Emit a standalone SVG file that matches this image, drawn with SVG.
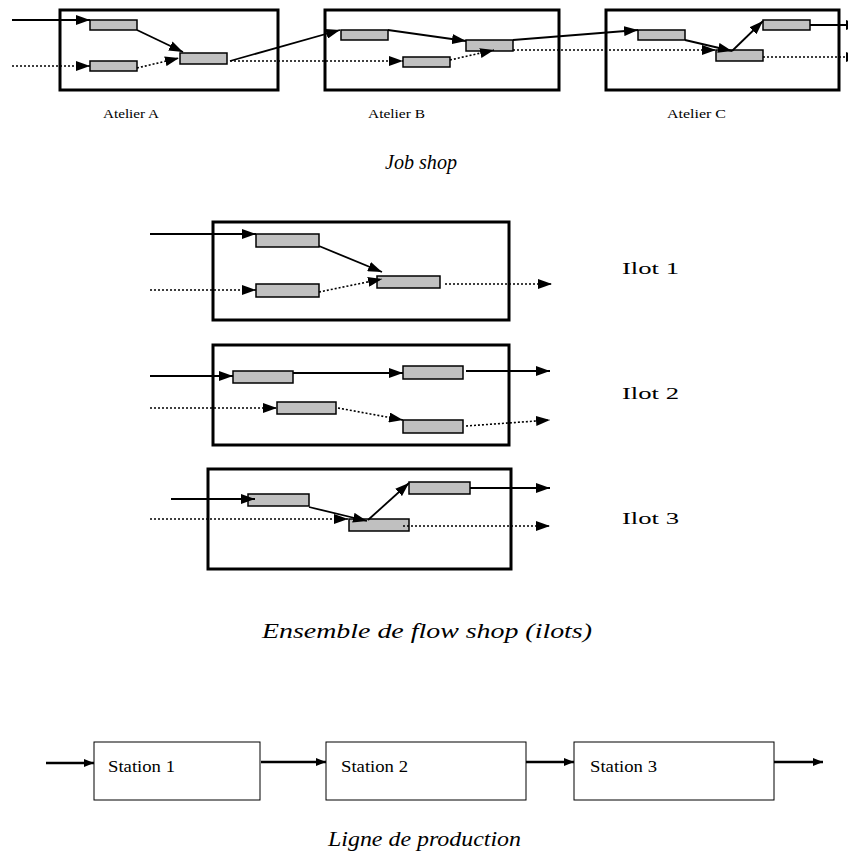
<svg xmlns="http://www.w3.org/2000/svg" width="848" height="856" viewBox="0 0 848 856">
<defs>
<marker id="ah" markerUnits="userSpaceOnUse" markerWidth="14" markerHeight="10" refX="14" refY="5" orient="auto"><path d="M0,0 L14,5 L0,10 z" fill="#000"/></marker>
<marker id="ahs" markerUnits="userSpaceOnUse" markerWidth="10" markerHeight="8" refX="10" refY="4" orient="auto"><path d="M0,0 L10,4 L0,8 z" fill="#000"/></marker>
</defs>
<style>
.box{fill:none;stroke:#000;stroke-width:3}
.op{fill:#c0c0c0;stroke:#000;stroke-width:1.5}
.st{fill:#fff;stroke:#000;stroke-width:1}
.s{fill:none;stroke:#000;stroke-width:1.8;marker-end:url(#ah)}
.d{fill:none;stroke:#000;stroke-width:1.6;stroke-dasharray:2 2;marker-end:url(#ah)}
.sl{fill:none;stroke:#000;stroke-width:2.5;marker-end:url(#ahs)}
.lbl{font-family:"Liberation Serif","Times New Roman",serif;fill:#000}
.ti{font-family:"Liberation Serif","Times New Roman",serif;font-style:italic;fill:#000;font-size:21px}
</style>
<rect width="848" height="856" fill="#fff"/>

<!-- Job shop -->
<g id="atelierA"><rect class="box" x="60" y="10" width="218" height="80"/><text class="lbl" x="103" y="118" font-size="13.5" textLength="56" lengthAdjust="spacingAndGlyphs">Atelier A</text></g>
<g id="atelierB"><rect class="box" x="325" y="10" width="234" height="80"/><text class="lbl" x="368" y="118" font-size="13.5" textLength="57" lengthAdjust="spacingAndGlyphs">Atelier B</text></g>
<g id="atelierC"><rect class="box" x="606" y="10" width="233" height="80"/><text class="lbl" x="667" y="118" font-size="13.5" textLength="59" lengthAdjust="spacingAndGlyphs">Atelier C</text></g>
<g id="a1"><rect class="op" x="90" y="20" width="47" height="10"/></g>
<g id="a2"><rect class="op" x="90" y="61" width="47" height="10"/></g>
<g id="a3"><rect class="op" x="180" y="53" width="47" height="11"/></g>
<g id="b1"><rect class="op" x="341" y="30" width="47" height="10"/></g>
<g id="b2"><rect class="op" x="403" y="57" width="47" height="10"/></g>
<g id="b3"><rect class="op" x="466" y="40" width="47" height="11"/></g>
<g id="c1"><rect class="op" x="638" y="30" width="47" height="10"/></g>
<g id="c2"><rect class="op" x="716" y="50" width="47" height="11"/></g>
<g id="c3"><rect class="op" x="763" y="20" width="47" height="10"/></g>
<g id="t-job"><text class="ti" x="385" y="169" textLength="72" lengthAdjust="spacingAndGlyphs">Job shop</text></g>

<!-- Ilots -->
<g id="ilot1"><rect class="box" x="213" y="222" width="296" height="98"/><text class="lbl" x="622" y="274" font-size="17" textLength="57" lengthAdjust="spacingAndGlyphs">Ilot 1</text></g>
<g id="ilot2"><rect class="box" x="213" y="345" width="296" height="100"/><text class="lbl" x="622" y="399" font-size="17" textLength="57" lengthAdjust="spacingAndGlyphs">Ilot 2</text></g>
<g id="ilot3"><rect class="box" x="208" y="469" width="303" height="100"/><text class="lbl" x="622" y="524" font-size="17" textLength="57" lengthAdjust="spacingAndGlyphs">Ilot 3</text></g>
<g id="i1a"><rect class="op" x="256" y="234" width="63" height="13"/></g>
<g id="i1b"><rect class="op" x="256" y="284" width="63" height="13"/></g>
<g id="i1c"><rect class="op" x="377" y="276" width="63" height="12"/></g>
<g id="i2a"><rect class="op" x="233" y="371" width="60" height="12"/></g>
<g id="i2b"><rect class="op" x="403" y="366" width="60" height="13"/></g>
<g id="i2c"><rect class="op" x="277" y="402" width="59" height="12"/></g>
<g id="i2d"><rect class="op" x="403" y="420" width="60" height="13"/></g>
<g id="i3a"><rect class="op" x="248" y="494" width="61" height="12"/></g>
<g id="i3b"><rect class="op" x="349" y="519" width="60" height="12"/></g>
<g id="i3c"><rect class="op" x="409" y="482" width="61" height="12"/></g>
<g id="t-flow"><text class="ti" x="262" y="638" textLength="330" lengthAdjust="spacingAndGlyphs">Ensemble de flow shop (ilots)</text></g>

<!-- Ligne -->
<g id="station1"><rect class="st" x="94" y="742" width="166" height="58"/><text class="lbl" x="108" y="772" font-size="16" textLength="67" lengthAdjust="spacingAndGlyphs">Station 1</text></g>
<g id="station2"><rect class="st" x="326" y="742" width="200" height="58"/><text class="lbl" x="341" y="772" font-size="16" textLength="67" lengthAdjust="spacingAndGlyphs">Station 2</text></g>
<g id="station3"><rect class="st" x="574" y="742" width="200" height="58"/><text class="lbl" x="590" y="772" font-size="16" textLength="67" lengthAdjust="spacingAndGlyphs">Station 3</text></g>
<g id="t-ligne"><text class="ti" x="328" y="846" textLength="193" lengthAdjust="spacingAndGlyphs">Ligne de production</text></g>

<g id="connectors">
<!-- job shop -->
<path class="s" d="M12,20 L90,20"/>
<path class="d" d="M12,66 L90,66"/>
<path class="s" d="M137,30 L183,52"/>
<path class="d" d="M137,68 L179,58"/>
<path class="s" d="M230,61 L340,30"/>
<path class="d" d="M230,61 L403,61"/>
<path class="s" d="M388,30 L466,41"/>
<path class="d" d="M450,60 L494,50"/>
<path class="s" d="M513,40 L638,30"/>
<path class="d" d="M513,50 L716,50"/>
<path class="s" d="M685,40 L732,51"/>
<path class="s" d="M732,51 L763,21"/>
<path class="s" d="M810,25 L860,25"/>
<path class="d" d="M763,57 L860,57"/>
<!-- ilot 1 -->
<path class="s" d="M150,234 L256,234"/>
<path class="d" d="M150,290 L256,290"/>
<path class="s" d="M319,246 L382,272"/>
<path class="d" d="M319,292 L382,279"/>
<path class="d" d="M445,284 L552,284"/>
<!-- ilot 2 -->
<path class="s" d="M150,376 L233,376"/>
<path class="s" d="M293,373 L403,373"/>
<path class="s" d="M466,371 L550,371"/>
<path class="d" d="M150,408 L277,408"/>
<path class="d" d="M338,408 L403,420"/>
<path class="d" d="M466,426 L550,420"/>
<!-- ilot 3 -->
<path class="s" d="M171,499 L255,499"/>
<path class="s" d="M309,507 L367,521"/>
<path class="s" d="M368,520 L409,483"/>
<path class="s" d="M470,488 L550,488"/>
<path class="d" d="M150,519 L348,519"/>
<path class="d" d="M403,526 L550,526"/>
<!-- ligne -->
<path class="sl" d="M46,763 L94,763"/>
<path class="sl" d="M261,762 L326,762"/>
<path class="sl" d="M526,762 L574,762"/>
<path class="sl" d="M774,762 L823,762"/>
</g>
</svg>
